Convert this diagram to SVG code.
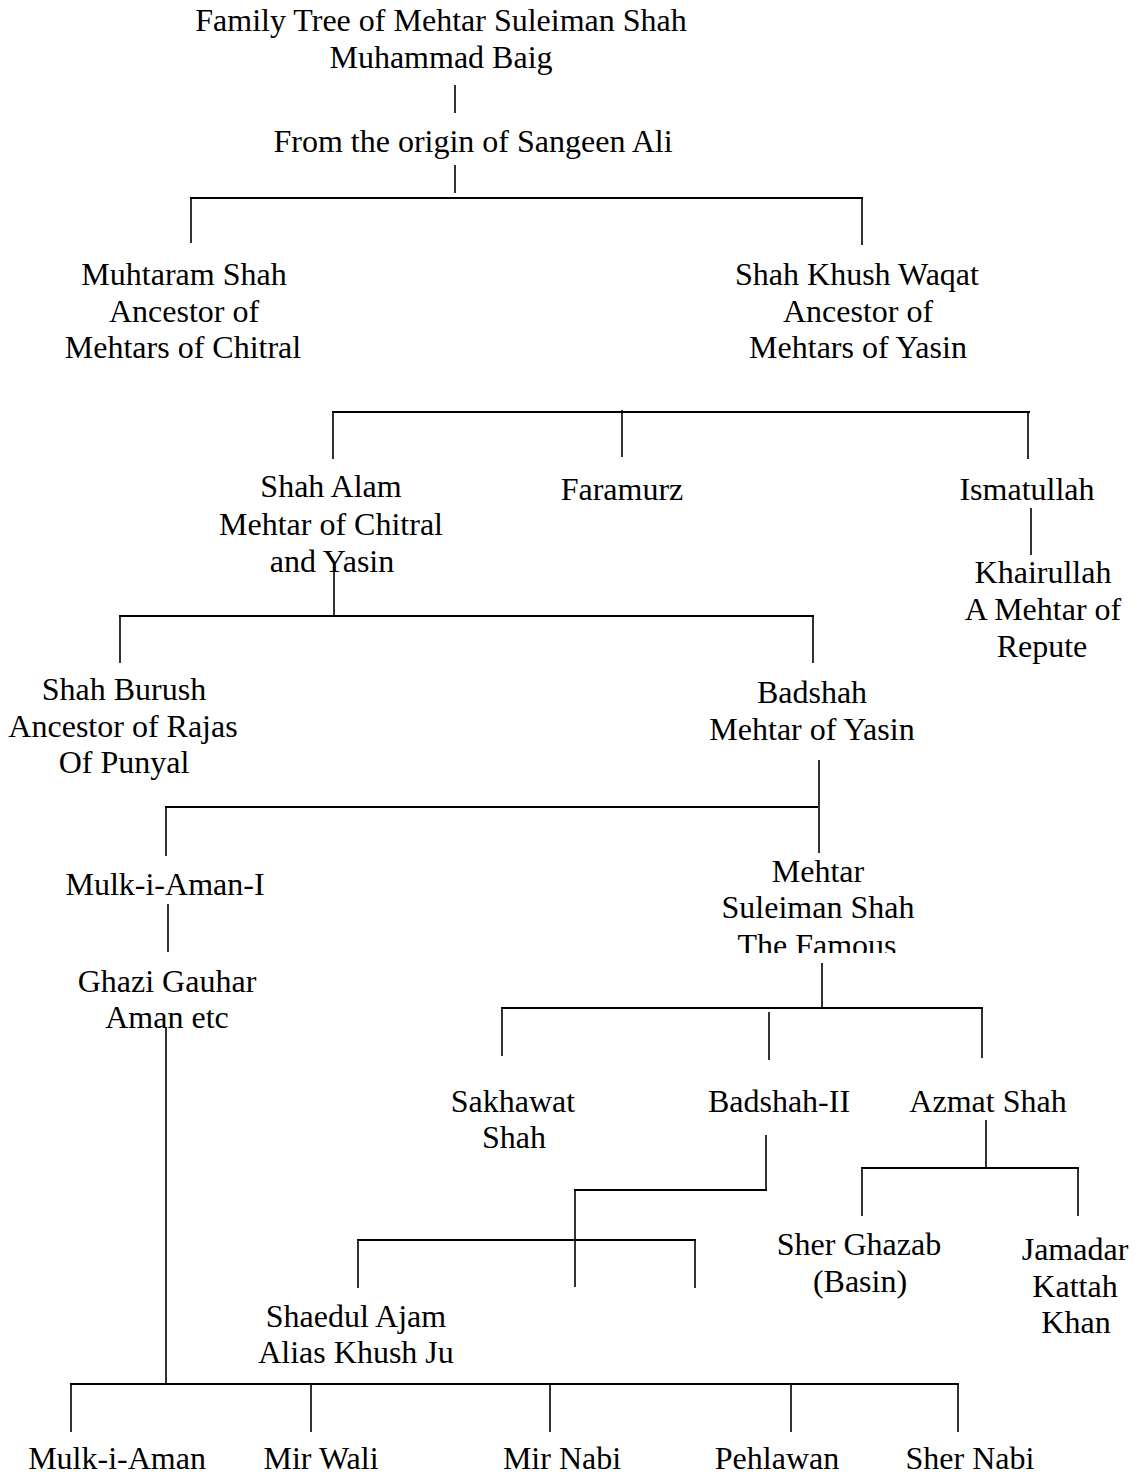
<svg xmlns="http://www.w3.org/2000/svg" width="1140" height="1475" viewBox="0 0 1140 1475">
<style>
text{font-family:"Liberation Serif","Times New Roman",serif;font-size:32px;fill:#000;text-anchor:middle}
.h{stroke:#000;stroke-width:2.2;fill:none}
.v{stroke:#000;stroke-width:1.6;fill:none}
</style>
<defs>
<clipPath id="clipFamous"><rect x="600" y="850" width="400" height="103"/></clipPath>
</defs>
<rect width="1140" height="1475" fill="#fff"/>
<g id="connectors">
<path class="v" d="M455 85V113M455 165V193M191 198V243M862 198V245"/>
<path class="h" d="M190 198H863"/>
<path class="h" d="M332 412H1030"/>
<path class="v" d="M333 412V459M622 410V457M1028 412V459M1031 508V555"/>
<path class="v" d="M334 570V616M120 616V663M813 616V663"/>
<path class="h" d="M119 616H814"/>
<path class="v" d="M819 760V853M166 807V856M168 904V952M166 1027V1384"/>
<path class="h" d="M165 807H818"/>
<path class="v" d="M822 963V1008M502 1008V1056M769 1012V1060M982 1008V1058"/>
<path class="h" d="M501 1008H983"/>
<path class="v" d="M766 1135V1190M575 1190V1287M358 1240V1288M695 1240V1288"/>
<path class="h" d="M574 1190H767"/>
<path class="h" d="M357 1240H696"/>
<path class="v" d="M986 1120V1168M862 1168V1216M1078 1168V1216"/>
<path class="h" d="M861 1168H1079"/>
<path class="h" d="M70 1384H959"/>
<path class="v" d="M71 1384V1432M311 1384V1432M550 1384V1432M791 1384V1432M958 1384V1432"/>
</g>
<g id="title"><text x="441" y="31">Family Tree of Mehtar Suleiman Shah</text><text x="441" y="68">Muhammad Baig</text></g>
<g id="sangeen"><text x="473" y="152">From the origin of Sangeen Ali</text></g>
<g id="muhtaram"><text x="184" y="285">Muhtaram Shah</text><text x="184" y="322">Ancestor of</text><text x="183" y="358">Mehtars of Chitral</text></g>
<g id="khushwaqat"><text x="857" y="285">Shah Khush Waqat</text><text x="858" y="322">Ancestor of</text><text x="858" y="358">Mehtars of Yasin</text></g>
<g id="shahalam"><text x="331" y="497">Shah Alam</text><text x="331" y="535">Mehtar of Chitral</text><text x="332" y="572">and Yasin</text></g>
<g id="faramurz"><text x="622" y="500">Faramurz</text></g>
<g id="ismatullah"><text x="1027" y="500">Ismatullah</text></g>
<g id="khairullah"><text x="1043" y="583">Khairullah</text><text x="1043" y="620">A Mehtar of</text><text x="1042" y="657">Repute</text></g>
<g id="shahburush"><text x="124" y="700">Shah Burush</text><text x="123" y="737">Ancestor of Rajas</text><text x="124" y="773">Of Punyal</text></g>
<g id="badshah"><text x="812" y="703">Badshah</text><text x="812" y="740">Mehtar of Yasin</text></g>
<g id="mulkiaman1"><text x="165" y="895">Mulk-i-Aman-I</text></g>
<g id="suleiman"><text x="818" y="882">Mehtar</text><text x="818" y="918">Suleiman Shah</text><text x="817" y="956" clip-path="url(#clipFamous)">The Famous</text></g>
<g id="ghazi"><text x="167" y="992">Ghazi Gauhar</text><text x="167" y="1028">Aman etc</text></g>
<g id="sakhawat"><text x="513" y="1112">Sakhawat</text><text x="514" y="1148">Shah</text></g>
<g id="badshah2"><text x="779" y="1112">Badshah-II</text></g>
<g id="azmat"><text x="988" y="1112">Azmat Shah</text></g>
<g id="sherghazab"><text x="859" y="1255">Sher Ghazab</text><text x="860" y="1292">(Basin)</text></g>
<g id="jamadar"><text x="1075" y="1260">Jamadar</text><text x="1075" y="1297">Kattah</text><text x="1076" y="1333">Khan</text></g>
<g id="shaedul"><text x="356" y="1327">Shaedul Ajam</text><text x="356" y="1363">Alias Khush Ju</text></g>
<g id="mulkiaman"><text x="117" y="1469">Mulk-i-Aman</text></g>
<g id="mirwali"><text x="321" y="1469">Mir Wali</text></g>
<g id="mirnabi"><text x="562" y="1469">Mir Nabi</text></g>
<g id="pehlawan"><text x="777" y="1469">Pehlawan</text></g>
<g id="shernabi"><text x="970" y="1469">Sher Nabi</text></g>
</svg>
